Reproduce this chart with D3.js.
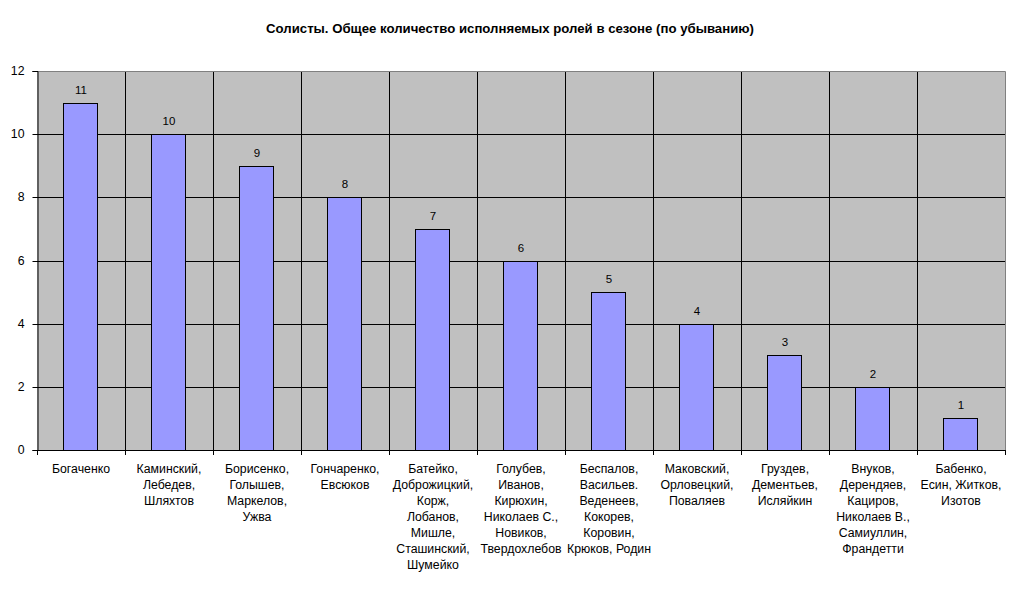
<!DOCTYPE html>
<html><head><meta charset="utf-8">
<script src="https://cdn.jsdelivr.net/npm/d3@7"></script>
<style>body{margin:0;background:#fff}svg{display:block}</style>
</head><body>
<svg id="c" width="1020" height="591"></svg>
<script>
const categories = [
  ["Богаченко"],
  ["Каминский,","Лебедев,","Шляхтов"],
  ["Борисенко,","Голышев,","Маркелов,","Ужва"],
  ["Гончаренко,","Евсюков"],
  ["Батейко,","Доброжицкий,","Корж,","Лобанов,","Мишле,","Сташинский,","Шумейко"],
  ["Голубев,","Иванов,","Кирюхин,","Николаев С.,","Новиков,","Твердохлебов"],
  ["Беспалов,","Васильев.","Веденеев,","Кокорев,","Коровин,","Крюков, Родин"],
  ["Маковский,","Орловецкий,","Поваляев"],
  ["Груздев,","Дементьев,","Исляйкин"],
  ["Внуков,","Дерендяев,","Кациров,","Николаев В.,","Самиуллин,","Франдетти"],
  ["Бабенко,","Есин, Житков,","Изотов"]
];
const values = [11,10,9,8,7,6,5,4,3,2,1];
const yTicks = [0,2,4,6,8,10,12];
const title = "Солисты. Общее количество исполняемых ролей в сезоне (по убыванию)";

const svg = d3.select("#c");
const font = "'Liberation Sans', Arial, sans-serif";
const L=37, R=1005, T=71, B=450;
const x = d3.scaleBand().domain(d3.range(values.length)).range([L,R]).paddingInner(0).paddingOuter(0);
const y = d3.scaleLinear().domain([0,12]).range([B,T]);

svg.append("rect").attr("x",L).attr("y",T).attr("width",R-L).attr("height",B-T).attr("fill","#c0c0c0");

// horizontal gridlines
svg.append("g").selectAll("line").data(yTicks.filter(d=>d>0 && d<12)).join("line")
  .attr("x1",L).attr("x2",R).attr("y1",d=>Math.round(y(d))+0.5).attr("y2",d=>Math.round(y(d))+0.5)
  .attr("stroke","#000");
// vertical gridlines
svg.append("g").selectAll("line").data(d3.range(1,values.length)).join("line")
  .attr("x1",d=>Math.round(x(d))+0.5).attr("x2",d=>Math.round(x(d))+0.5)
  .attr("y1",T).attr("y2",B).attr("stroke","#000");
// plot border top/right (gray)
svg.append("path").attr("d",`M${L},${T+0.5}H${R+0.5}V${B}`).attr("fill","none").attr("stroke","#808080");

// bars
const bw = 34;
svg.append("g").selectAll("rect").data(values).join("rect")
  .attr("x",(d,i)=>Math.round(x(i)+(x.bandwidth()-bw)/2)-0.5)
  .attr("y",d=>Math.round(y(d))+0.5)
  .attr("width",bw).attr("height",d=>Math.round(B)-Math.round(y(d)))
  .attr("fill","#9999ff").attr("stroke","#000");

// value labels
svg.append("g").selectAll("text").data(values).join("text")
  .attr("x",(d,i)=>x(i)+x.bandwidth()/2).attr("y",d=>y(d)-9)
  .attr("text-anchor","middle").attr("font-family",font).attr("font-size",11.5).text(d=>d);

// y axis
const ya = svg.append("g").attr("transform",`translate(${L+0.5},0)`)
  .call(d3.axisLeft(y).tickValues(yTicks).tickSize(5).tickPadding(8).tickFormat(d3.format("d")));
ya.select(".domain").attr("stroke","#000");
ya.selectAll(".tick line").attr("stroke","#000");
ya.selectAll("text").attr("font-family",font).attr("font-size",12.3).attr("fill","#000");
ya.selectAll(".tick").attr("transform",d=>`translate(0,${Math.round(y(d))+0.5})`);

// x axis line + ticks at boundaries
svg.append("line").attr("x1",L).attr("x2",R).attr("y1",B+0.5).attr("y2",B+0.5).attr("stroke","#000");
svg.append("g").selectAll("line").data(d3.range(0,values.length+1)).join("line")
  .attr("x1",d=>Math.round(L+d*x.bandwidth())+0.5).attr("x2",d=>Math.round(L+d*x.bandwidth())+0.5)
  .attr("y1",B).attr("y2",B+5).attr("stroke","#000");

// category labels
const lab = svg.append("g").selectAll("text").data(categories).join("text")
  .attr("text-anchor","middle").attr("font-family",font).attr("font-size",12.3);
lab.each(function(lines,i){
  d3.select(this).selectAll("tspan").data(lines).join("tspan")
    .attr("x",x(i)+x.bandwidth()/2).attr("y",(d,j)=>473+j*16).text(d=>d);
});

// title
svg.append("text").attr("x",510).attr("y",33).attr("text-anchor","middle")
  .attr("font-family",font).attr("font-weight","bold").attr("font-size",13.2).text(title);
</script>
</body></html>
